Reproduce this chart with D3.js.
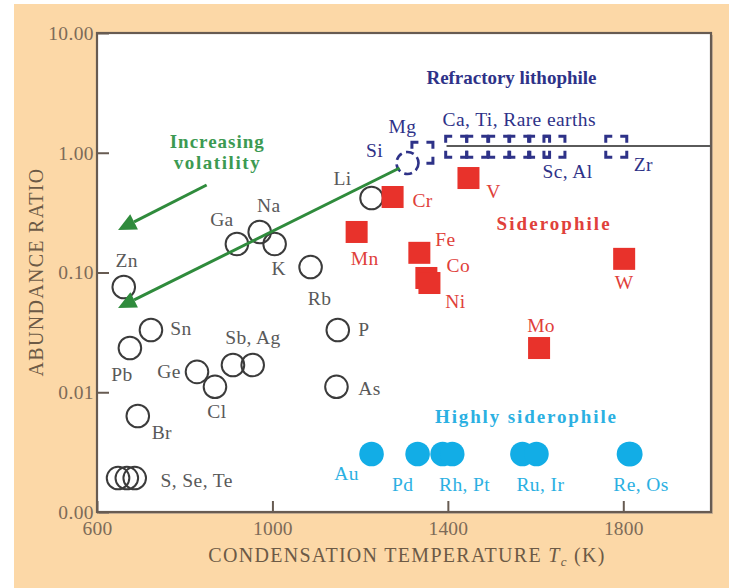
<!DOCTYPE html>
<html>
<head>
<meta charset="utf-8">
<script src="https://cdn.jsdelivr.net/npm/d3@7"></script>
<style>
  html, body { margin: 0; padding: 0; background: #ffffff; }
  svg { display: block; }
  text { font-family: "Liberation Serif", "DejaVu Serif", serif; }
</style>
</head>
<body>
<svg id="chart" width="729" height="588"></svg>
<script>
// ---- Data: condensation temperature (K) and abundance ratio ----
const volatileNames = ["Zn", "Pb", "Sn", "Br", "S", "Se", "Te", "Ge", "Cl", "Sb", "Ag", "Ga", "Na", "K", "Rb", "P", "As", "Li"];
const volatileTc    = [661, 675, 723, 693, 648, 668, 686, 828, 869, 910, 955, 919, 971, 1005, 1087, 1149, 1146, 1226];
const volatileRatio = [0.0757, 0.0234, 0.0331, 0.00634, 0.00192, 0.00192, 0.00192, 0.0148, 0.0111, 0.0169, 0.0169, 0.173, 0.218, 0.173, 0.111, 0.0331, 0.0111, 0.419];

const siliconName  = ["Si"];
const siliconTc    = [1308];
const siliconRatio = [0.821];

const refractoryNames = ["Mg", "Ca", "Ti", "REE", "REE", "Sc", "Al", "Zr"];
const refractoryTc    = [1342, 1419, 1467, 1517, 1563, 1608, 1643, 1784];
const refractoryRatio = [1.00, 1.12, 1.12, 1.12, 1.12, 1.12, 1.12, 1.12];

const siderophileNames = ["Cr", "V", "Mn", "Fe", "Co", "Ni", "W", "Mo"];
const siderophileTc    = [1274, 1447, 1192, 1335, 1351, 1358, 1802, 1608];
const siderophileRatio = [0.427, 0.615, 0.218, 0.146, 0.090, 0.0817, 0.130, 0.0234];

const highlySidNames = ["Au", "Pd", "Rh", "Pt", "Ru", "Ir", "Re", "Os"];
const highlySidTc    = [1226, 1331, 1388, 1410, 1570, 1602, 1813, 1816];
const highlySidRatio = [0.00305, 0.00305, 0.00305, 0.00305, 0.00305, 0.00305, 0.00305, 0.00305];

// Refractory reference level (horizontal line)
const refractoryLevel = 1.14;
const refractoryLineTc = [1397, 2000];

// Volatility arrows: [start Tc, start ratio, end Tc, end ratio]
const arrowShort = [850, 0.538, 648, 0.226];
const arrowLong  = [1290, 0.746, 648, 0.0506];

const xTicks = [600, 1000, 1400, 1800];
const yTicks = [0.001, 0.01, 0.1, 1, 10];

// ---- Layout ----
const svg = d3.select("#chart");
const plot = { left: 97, top: 33, right: 711, bottom: 512 };

const x = d3.scaleLinear().domain([600, 2000]).range([plot.left, plot.right]);
const y = d3.scaleLog().domain([0.001, 10]).range([plot.bottom, plot.top]);

const C = {
  bg: "#fcd8a7",
  axis: "#675b52",
  tickText: "#7d6b58",
  title: "#6c5a46",
  ink: "#3b3b3b",
  grayText: "#595959",
  navy: "#2e3288",
  red: "#e8322b",
  redText: "#e0403a",
  cyan: "#12ade6",
  cyanText: "#2bb0e2",
  green: "#2f8b3c",
  greenText: "#3c9a52"
};

// Background panel
svg.append("rect").attr("x", 14).attr("y", 4).attr("width", 715).attr("height", 584).attr("fill", C.bg);
// soft drop shadow of the frame
svg.append("rect")
  .attr("x", plot.left + 2).attr("y", plot.top + 2)
  .attr("width", plot.right - plot.left).attr("height", plot.bottom - plot.top)
  .attr("fill", "#a89a8c").attr("opacity", 0.6);
svg.append("rect")
  .attr("x", plot.left).attr("y", plot.top)
  .attr("width", plot.right - plot.left).attr("height", plot.bottom - plot.top)
  .attr("fill", "#ffffff");

// ---- Axes ----
const yAxis = d3.axisLeft(y).tickValues(yTicks).tickFormat(d3.format(".2f"))
  .tickSizeInner(-12).tickSizeOuter(0).tickPadding(3);
const gy = svg.append("g").attr("transform", `translate(${plot.left},0)`).call(yAxis);
gy.select(".domain").remove();
gy.selectAll(".tick line").attr("stroke", C.axis).attr("stroke-width", 2);
gy.selectAll(".tick text").attr("fill", C.tickText).attr("font-size", 19.5)
  .style("font-family", "'Liberation Serif', serif").attr("letter-spacing", 0.4);

const xAxis = d3.axisBottom(x).tickValues(xTicks).tickFormat(d3.format("d"))
  .tickSizeInner(-11).tickSizeOuter(0).tickPadding(9);
const gx = svg.append("g").attr("transform", `translate(0,${plot.bottom})`).call(xAxis);
gx.select(".domain").remove();
gx.selectAll(".tick line").attr("stroke", C.axis).attr("stroke-width", 2);
gx.selectAll(".tick text").attr("fill", C.tickText).attr("font-size", 19.5)
  .style("font-family", "'Liberation Serif', serif").attr("letter-spacing", 0.2);

// Plot frame
svg.append("rect")
  .attr("x", plot.left).attr("y", plot.top)
  .attr("width", plot.right - plot.left).attr("height", plot.bottom - plot.top)
  .attr("fill", "none").attr("stroke", C.axis).attr("stroke-width", 2.2);

// Axis titles
const xt = svg.append("text")
  .attr("x", (plot.left + plot.right) / 2 + 3).attr("y", 562)
  .attr("text-anchor", "middle").attr("fill", C.title).attr("font-size", 20)
  .attr("letter-spacing", 1.3);
xt.append("tspan").text("CONDENSATION TEMPERATURE ");
xt.append("tspan").attr("font-style", "italic").text("T");
xt.append("tspan").attr("font-style", "italic").attr("font-size", 13).attr("dy", 4).text("c");
xt.append("tspan").attr("dy", -4).text(" (K)");

svg.append("text")
  .attr("transform", `translate(43,272) rotate(-90)`)
  .attr("text-anchor", "middle").attr("fill", C.title).attr("font-size", 20)
  .attr("letter-spacing", 1.3)
  .text("ABUNDANCE RATIO");

// ---- Helpers ----
const zip = (names, tc, r) => names.map((n, i) => ({ name: n, tc: tc[i], r: r[i] }));
const volatile = zip(volatileNames, volatileTc, volatileRatio);
const silicon = zip(siliconName, siliconTc, siliconRatio);
const refractory = zip(refractoryNames, refractoryTc, refractoryRatio);
const siderophile = zip(siderophileNames, siderophileTc, siderophileRatio);
const highly = zip(highlySidNames, highlySidTc, highlySidRatio);

// Refractory lithophile: open squares outlined by corner brackets
const RQ = 21, arm = 6.5;
function bracketSquare(cx, cy) {
  const h = RQ / 2, a = arm;
  const l = cx - h, r = cx + h, t = cy - h, b = cy + h;
  return `M${l},${t + a}V${t}H${l + a}` +
         `M${r - a},${t}H${r}V${t + a}` +
         `M${r},${b - a}V${b}H${r - a}` +
         `M${l + a},${b}H${l}V${b - a}`;
}
svg.append("g").selectAll("path").data(refractory).join("path")
  .attr("d", d => bracketSquare(x(d.tc), y(d.r)))
  .attr("fill", "none").attr("stroke", C.navy).attr("stroke-width", 3)
  .attr("stroke-linejoin", "miter");

// Refractory level line
svg.append("line")
  .attr("x1", x(refractoryLineTc[0])).attr("x2", x(refractoryLineTc[1]))
  .attr("y1", y(refractoryLevel)).attr("y2", y(refractoryLevel))
  .attr("stroke", "#5a5a5a").attr("stroke-width", 2);

// Silicon: white circle with dashed blue outline
svg.append("g").selectAll("circle").data(silicon).join("circle")
  .attr("cx", d => x(d.tc)).attr("cy", d => y(d.r)).attr("r", 11)
  .attr("fill", "#ffffff").attr("stroke", C.navy).attr("stroke-width", 2.6)
  .attr("stroke-dasharray", "8,4.5");

// Volatile elements: open circles
svg.append("g").selectAll("circle").data(volatile).join("circle")
  .attr("cx", d => x(d.tc)).attr("cy", d => y(d.r)).attr("r", 11.3)
  .attr("fill", "none").attr("stroke", C.ink).attr("stroke-width", 2);

// Siderophile: filled red squares
const SQ = 22;
svg.append("g").selectAll("rect").data(siderophile).join("rect")
  .attr("x", d => x(d.tc) - SQ / 2).attr("y", d => y(d.r) - SQ / 2)
  .attr("width", SQ).attr("height", SQ)
  .attr("fill", C.red);

// Highly siderophile: filled cyan circles
svg.append("g").selectAll("circle").data(highly).join("circle")
  .attr("cx", d => x(d.tc)).attr("cy", d => y(d.r)).attr("r", 12.3)
  .attr("fill", C.cyan);

// ---- Volatility arrows ----
function arrow(a) {
  const x1 = x(a[0]), y1 = y(a[1]), x2 = x(a[2]), y2 = y(a[3]);
  const ang = Math.atan2(y2 - y1, x2 - x1);
  const L = 18, W = 8.5;
  const bx = x2 - L * Math.cos(ang), by = y2 - L * Math.sin(ang);
  const g = svg.append("g");
  g.append("line").attr("x1", x1).attr("y1", y1).attr("x2", bx).attr("y2", by)
    .attr("stroke", C.green).attr("stroke-width", 3);
  const px = -Math.sin(ang) * W, py = Math.cos(ang) * W;
  g.append("polygon")
    .attr("points", [[x2, y2], [bx + px, by + py], [bx - px, by - py]].map(p => p.join(",")).join(" "))
    .attr("fill", C.green);
}
arrow(arrowShort);
arrow(arrowLong);

// ---- Element labels (offsets in px from the referenced point) ----
const all = {};
[volatile, silicon, refractory, siderophile, highly].forEach(arr => arr.forEach(d => { if (!all[d.name]) all[d.name] = d; }));

const labelPlacement = [
  { text: "Zn", of: "Zn", dx: 3, dy: -26, c: C.grayText },
  { text: "Pb", of: "Pb", dx: -8, dy: 26, c: C.grayText },
  { text: "Sn", of: "Sn", dx: 30, dy: -2, c: C.grayText },
  { text: "Br", of: "Br", dx: 24, dy: 17, c: C.grayText },
  { text: "S, Se, Te", of: "Te", dx: 62, dy: 2, c: C.grayText },
  { text: "Ge", of: "Ge", dx: -28, dy: 0, c: C.grayText },
  { text: "Cl", of: "Cl", dx: 2, dy: 25, c: C.grayText },
  { text: "Sb, Ag", of: "Sb", dx: 20, dy: -27, c: C.grayText },
  { text: "Ga", of: "Ga", dx: -15, dy: -24, c: C.grayText },
  { text: "Na", of: "Na", dx: 9, dy: -26, c: C.grayText },
  { text: "K", of: "K", dx: 4, dy: 25, c: C.grayText },
  { text: "Rb", of: "Rb", dx: 9, dy: 31, c: C.grayText },
  { text: "P", of: "P", dx: 26, dy: -1, c: C.grayText },
  { text: "As", of: "As", dx: 33, dy: 2, c: C.grayText },
  { text: "Li", of: "Li", dx: -29, dy: -19, c: C.grayText },
  { text: "Si", of: "Si", dx: -33, dy: -13, c: C.navy },
  { text: "Mg", of: "Mg", dx: -20, dy: -26, c: C.navy },
  { text: "Ca, Ti, Rare earths", of: "Ti", dx: 42, dy: -27, c: C.navy },
  { text: "Sc, Al", of: "Al", dx: 13, dy: 25, c: C.navy },
  { text: "Zr", of: "Zr", dx: 27, dy: 18, c: C.navy },
  { text: "Cr", of: "Cr", dx: 30, dy: 3, c: C.redText },
  { text: "V", of: "V", dx: 25, dy: 13, c: C.redText },
  { text: "Mn", of: "Mn", dx: 8, dy: 27, c: C.redText },
  { text: "Fe", of: "Fe", dx: 26, dy: -13, c: C.redText },
  { text: "Co", of: "Co", dx: 32, dy: -12, c: C.redText },
  { text: "Ni", of: "Ni", dx: 26, dy: 18, c: C.redText },
  { text: "W", of: "W", dx: 0, dy: 24, c: C.redText },
  { text: "Mo", of: "Mo", dx: 2, dy: -23, c: C.redText },
  { text: "Au", of: "Au", dx: -25, dy: 19, c: C.cyanText },
  { text: "Pd", of: "Pd", dx: -15, dy: 30, c: C.cyanText },
  { text: "Rh, Pt", of: "Rh", dx: 22, dy: 30, c: C.cyanText },
  { text: "Ru, Ir", of: "Ru", dx: 18, dy: 30, c: C.cyanText },
  { text: "Re, Os", of: "Re", dx: 12, dy: 30, c: C.cyanText }
];

svg.append("g").selectAll("text").data(labelPlacement).join("text")
  .attr("x", d => x(all[d.of].tc) + d.dx)
  .attr("y", d => y(all[d.of].r) + d.dy)
  .attr("text-anchor", "middle").attr("dominant-baseline", "central")
  .attr("font-size", 19.5).attr("letter-spacing", 0.4).attr("fill", d => d.c)
  .text(d => d.text);

// ---- Group titles (tc = centre, r = first baseline) ----
const groupTitles = [
  { lines: ["Refractory lithophile"], widths: [170], tc: 1545, r: 3.75, c: C.navy },
  { lines: ["Siderophile"], widths: [113], tc: 1640, r: 0.2265, c: C.redText },
  { lines: ["Highly siderophile"], widths: [181], tc: 1577, r: 0.00555, c: C.cyanText },
  { lines: ["Increasing", "volatility"], widths: [94, 86], tc: 873, r: 1.1, c: C.greenText }
];
groupTitles.forEach(g => {
  g.lines.forEach((ln, i) => {
    svg.append("text").attr("text-anchor", "middle")
      .attr("x", x(g.tc)).attr("y", y(g.r) + i * 21)
      .attr("font-size", 19).attr("font-weight", "bold").attr("fill", g.c)
      .attr("textLength", g.widths[i]).attr("lengthAdjust", "spacing")
      .text(ln);
  });
});
</script>
</body>
</html>
